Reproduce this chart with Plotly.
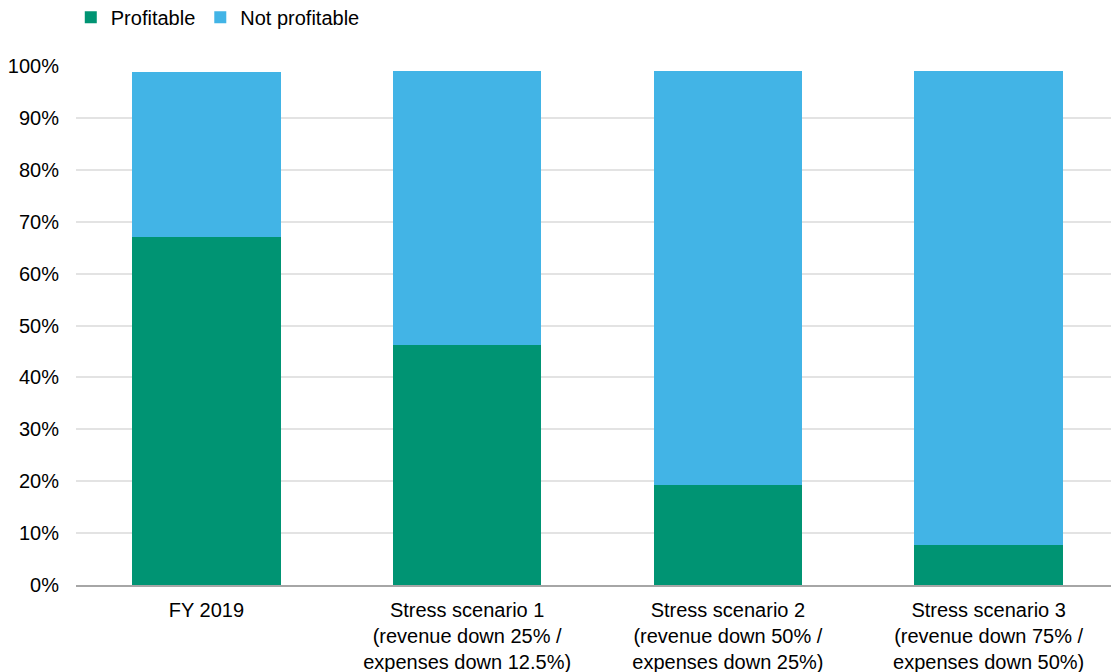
import plotly.graph_objects as go

categories = [
    "FY 2019",
    "Stress scenario 1<br>(revenue down 25% /<br>expenses down 12.5%)",
    "Stress scenario 2<br>(revenue down 50% /<br>expenses down 25%)",
    "Stress scenario 3<br>(revenue down 75% /<br>expenses down 50%)",
]
profitable = [67.1, 46.2, 19.3, 7.8]
not_profitable = [31.7, 52.9, 79.8, 91.3]
y_ticks = list(range(0, 101, 10))
y_tick_labels = [f"{v}%" for v in y_ticks]

GREEN = "#009473"
BLUE = "#42b4e6"
FONT = "Liberation Sans, Arial, sans-serif"

fig = go.Figure()
fig.add_trace(go.Bar(name="Profitable", x=categories, y=profitable,
                     marker=dict(color=GREEN, line=dict(width=0))))
fig.add_trace(go.Bar(name="Not profitable", x=categories, y=not_profitable,
                     marker=dict(color=BLUE, line=dict(width=0))))

# page has an 8px body margin, so the figure is sized 1111x664
fig.update_layout(
    barmode="stack",
    bargap=0.43,
    width=1111,
    height=664,
    margin=dict(l=68, r=0, t=58, b=87, autoexpand=False),
    paper_bgcolor="white",
    plot_bgcolor="white",
    font=dict(family=FONT, size=20, color="#000000"),
    legend=dict(
        orientation="h",
        x=-0.005, xanchor="left",
        y=1.094, yanchor="middle",
        font=dict(size=20),
        itemwidth=30,
        traceorder="normal",
        bgcolor="rgba(0,0,0,0)",
    ),
    showlegend=True,
)
fig.update_yaxes(
    range=[0, 100],
    tickvals=y_ticks,
    ticktext=y_tick_labels,
    showgrid=True,
    gridcolor="#e3e3e3",
    gridwidth=1.5,
    zeroline=False,
    showline=False,
    ticks="",
    ticklabelstandoff=16,
    tickfont=dict(size=20),
    automargin=False,
)
fig.update_xaxes(
    showline=True,
    linecolor="#a6a6a6",
    linewidth=1.5,
    ticks="",
    showgrid=False,
    tickfont=dict(size=20),
    ticklabelstandoff=6,
    automargin=False,
)

fig.write_html("out.html")
